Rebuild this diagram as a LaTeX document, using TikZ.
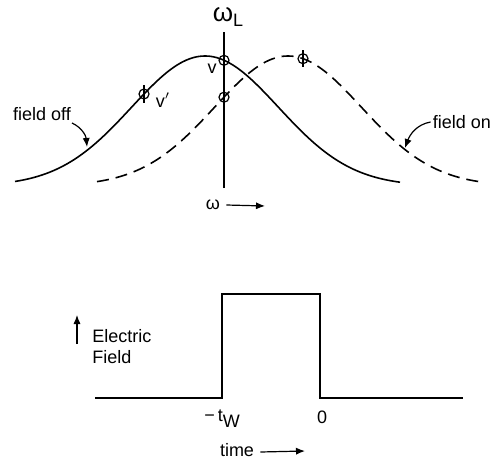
\documentclass[tikz,border=0pt]{standalone}
\usepackage{fontspec}
\setmainfont{Liberation Sans}
\usetikzlibrary{arrows.meta}

\begin{document}
\begin{tikzpicture}[
  x=0.5pt, y=0.5pt,
  font=\fontsize{9}{10.5}\selectfont,
  curve/.style={line width=0.8pt},
  shifted/.style={
    curve,
    dash pattern=on 6pt off 3.5pt
  },
  marker/.style={
    circle,
    draw,
    line width=0.6pt,
    inner sep=0pt,
    minimum size=5pt
  },
  txt/.style={inner sep=1pt},
  pointer/.style={-{Latex[length=4.5pt,width=3.6pt]}, line width=0.6pt}
]
\useasboundingbox (0,0) rectangle (491,461);

% Line profiles
\draw[curve] plot[domain=15:400, samples=100, smooth]
  (\x, {275+130*exp(-((\x-205)/100)^2/1.0754)});
\draw[shifted] plot[domain=97:483, samples=100, smooth]
  (\x, {275+130*exp(-((\x-288)/100)^2/1.0754)});

% Laser frequency
\coordinate (laserlo) at (224,273);
\coordinate (laserhi) at (224,429);
\draw[line width=0.6pt] (laserlo) -- (laserhi);
\node[txt] (omegaL) at (228,444) {{\fontsize{13}{13}\selectfont ω}\raisebox{-0.5ex}{L}};

% Markers on the profiles
\node[marker] (mv)  at (224,400.7) {};
\node[marker] (mvp) at (144,367) {};
\node[marker] (mon) at (303,402.3) {};
\node[marker] (mx)  at (224,363.8) {};
\foreach \m in {mv,mvp,mon,mx}
  \draw[line width=0.6pt] ([yshift=1.5pt]\m.north) -- ([yshift=-1.5pt]\m.south);
\node[txt] (vlab)   at (212,392) {v};
\node[txt] (vprime) at (163,361) {v$'$};

% Curve labels
\node[txt] (fieldoff) at (42,347) {field off};
\node[txt] (fieldon)  at (462,339) {field on};
\coordinate (offpt) at (87,314);
\coordinate (onpt)  at (405,313);
\draw[pointer] (72,338) to[out=-25, in=95] (offpt);
\draw[pointer] (fieldon.west) to[out=190, in=70] (onpt);

% Frequency axis
\node[txt] (omega) at (213,256) {ω};
\coordinate (omegaend) at (265,255);
\draw[pointer] (omega.east) ++(2pt,0) -- (omegaend);

% Pulse
\coordinate (p0) at (95,63);
\coordinate (p1) at (222,63);
\coordinate (p2) at (222,167);
\coordinate (p3) at (320,167);
\coordinate (p4) at (320,63);
\coordinate (p5) at (463,63);
\draw[curve] (p0) -- (p1) -- (p2) -- (p3) -- (p4) -- (p5);

% Pulse labels
\node[txt, anchor=west, align=left] (efield) at (90,114) {Electric\\Field};
\coordinate (efbot) at (77,117);
\coordinate (eftop) at (77,146);
\draw[pointer] (efbot) -- (eftop);
\node[txt] (tw)   at (222,42) {−\,t\raisebox{-0.6ex}{W}};
\node[txt] (zero) at (322,44) {0};
\node[txt] (time) at (237,11) {time};
\coordinate (timeend) at (305,10);
\draw[pointer] (time.east) ++(2pt,-1pt) -- (timeend);

\end{tikzpicture}
\end{document}
